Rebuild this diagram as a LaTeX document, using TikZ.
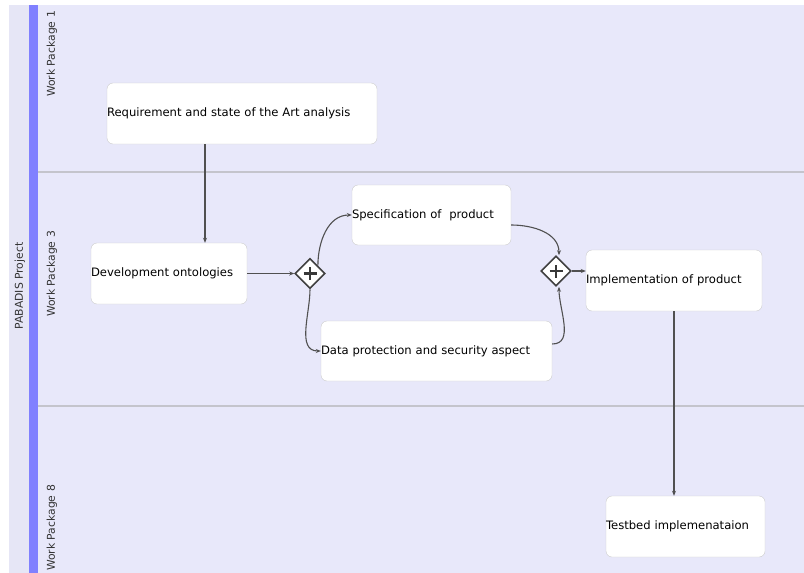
\documentclass[tikz,border=0pt]{standalone}
\usepackage{fontspec}
\setmainfont{DejaVu Sans}
\usetikzlibrary{arrows.meta,shapes.geometric}
\definecolor{lane}{HTML}{E8E8FA}
\definecolor{pool}{HTML}{E6E6F6}
\definecolor{bar}{HTML}{8080FF}
\definecolor{sep}{HTML}{C4C4CC}
\definecolor{edge}{HTML}{505050}
\definecolor{boxline}{HTML}{CCCCCC}
\tikzset{
  task/.style={draw=boxline, fill=white, rounded corners=6pt, minimum height=61pt,
    inner xsep=0pt, align=left, font=\fontsize{11.6}{13}\selectfont},
  gate/.style={diamond, draw=edge!80!black, line width=1.6pt, fill=white,
    minimum width=30pt, minimum height=30pt, inner sep=0pt,
    path picture={\draw[line width=2.8pt, edge!70!black]
      ([xshift=-6.5pt]path picture bounding box.center) -- ([xshift=6.5pt]path picture bounding box.center)
      ([yshift=-6.5pt]path picture bounding box.center) -- ([yshift=6.5pt]path picture bounding box.center);}},
  flow/.style={draw=edge, line width=1.1pt, -{Stealth[length=5pt,width=4pt]}},
  wp/.style={rotate=90, font=\fontsize{10.8}{12}\selectfont, text=black!80},
}
\begin{document}
\begin{tikzpicture}[x=1pt,y=-1pt]
        \useasboundingbox (0,0) rectangle (804,573);
        \clip (0,0) rectangle (804,573);
        \fill[white] (0,0) rectangle (804,573);
        \fill[pool] (9,5) rectangle (29,573);
        \fill[bar] (29,5) rectangle (38,573);
        \fill[lane] (38,5) rectangle (804,573);
        \draw[sep, line width=2.5pt] (38,172) -- (804,172);
        \draw[sep, line width=2.5pt] (38,406) -- (804,406);

        \node[wp] (prj) at (20,286) {PABADIS Project};
        \node[wp] (wp1) at (52,54) {Work Package 1};
        \node[wp] (wp3) at (52,274) {Work Package 3};
        \node[wp] (wp8) at (52,528) {Work Package 8};

        \node[task, text width=270pt] (req) at (242,113.5) {Requirement and state of the Art analysis};
        \node[task, text width=156pt] (dev) at (169,273.5) {Development ontologies};
        \node[task, text width=159pt, minimum height=60pt] (spec) at (431.5,215) {Specification of~ product};
        \node[task, text width=231pt, minimum height=60pt] (data) at (436.5,351) {Data protection and security aspect};
        \node[task, text width=176pt] (impl) at (674,280.5) {Implementation of product};
        \node[task, text width=159pt] (test) at (685.5,526.5) {Testbed implemenataion};
        \node[gate] (g1) at (310,273.5) {};
        \node[gate] (g2) at (556,271) {};

        \draw[flow] ([xshift=-37pt]req.south) -- ([xshift=-37pt]req.south |- dev.north);
        \draw[flow] (dev) -- (g1);
        \draw[flow] (g1.north east) to[out=90,in=180] (spec.west);
        \draw[flow] (g1.south) to[out=-90,in=180] (data.west);
        \draw[flow] ([yshift=-10pt]spec.east) to[out=0,in=90] ([xshift=3pt]g2.north);
        \draw[flow] ([yshift=7pt]data.east) to[out=0,in=-90] ([xshift=3pt]g2.south);
        \draw[flow] (g2) -- (g2 -| impl.west);
        \draw[flow] (impl.south) -- (impl.south |- test.north);

    \end{tikzpicture}
\end{document}
